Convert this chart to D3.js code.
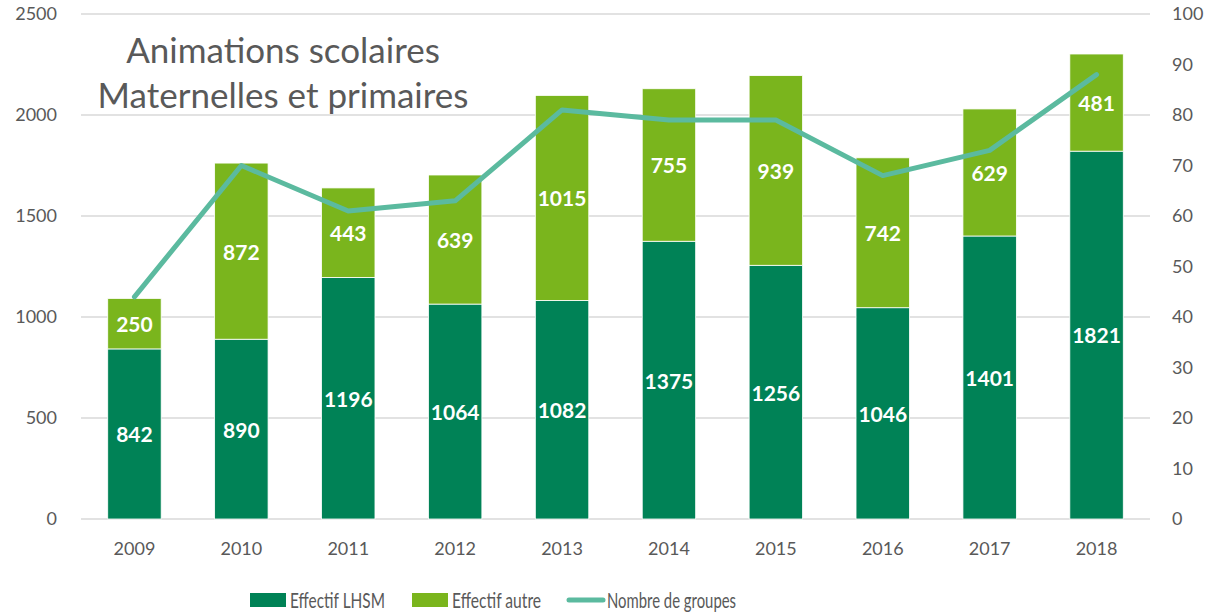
<!DOCTYPE html>
<html>
<head>
<meta charset="utf-8">
<script src="https://cdn.jsdelivr.net/npm/d3@7"></script>
<style>
  body { margin: 0; background: #fff; }
  text { font-family: Lato, "Open Sans", sans-serif; }
</style>
</head>
<body>
<svg></svg>
<script>
const width = 1208;
const height = 613;

const years = ['2009', '2010', '2011', '2012', '2013', '2014', '2015', '2016', '2017', '2018'];
const lhsm = [842, 890, 1196, 1064, 1082, 1375, 1256, 1046, 1401, 1821];
const autre = [250, 872, 443, 639, 1015, 755, 939, 742, 629, 481];
const groupes = [44, 70, 61, 63, 81, 79, 79, 68, 73, 88];
const leftTicks = [0, 500, 1000, 1500, 2000, 2500];
const rightTicks = [0, 10, 20, 30, 40, 50, 60, 70, 80, 90, 100];

const darkGreen = '#008256';
const lightGreen = '#7ab51d';
const lineColor = '#5bba9f';
const textColor = '#595959';

const margin = {left: 81, right: 58, top: 14, bottom: 94};

const svg = d3.select('svg')
    .attr('width', width)
    .attr('height', height);

const x = d3.scaleBand()
    .domain(years)
    .range([margin.left, width - margin.right])
    .paddingInner(0.5)
    .paddingOuter(0.25);

const y = d3.scaleLinear().domain([0, 2500]).range([height - margin.bottom, margin.top]);
const y2 = d3.scaleLinear().domain([0, 100]).range([height - margin.bottom, margin.top]);

// gridlines
svg.append('g').selectAll('line')
    .data(leftTicks)
    .enter().append('line')
    .attr('x1', margin.left)
    .attr('x2', width - margin.right)
    .attr('y1', d => y(d))
    .attr('y2', d => y(d))
    .attr('stroke', '#d9d9d9')
    .attr('stroke-width', 1.3);

// left axis
const leftAxis = svg.append('g')
    .attr('transform', `translate(${margin.left},0)`)
    .call(d3.axisLeft(y).tickValues(leftTicks).tickFormat(d3.format('d')).tickSize(0).tickPadding(24));
leftAxis.select('.domain').remove();
leftAxis.selectAll('text').attr('fill', textColor).style('font-size', '18px');

// right axis
const rightAxis = svg.append('g')
    .attr('transform', `translate(${width - margin.right},0)`)
    .call(d3.axisRight(y2).tickValues(rightTicks).tickFormat(d3.format('d')).tickSize(0).tickPadding(22));
rightAxis.select('.domain').remove();
rightAxis.selectAll('text').attr('fill', textColor).style('font-size', '18px');

// bottom axis
const bottomAxis = svg.append('g')
    .attr('transform', `translate(0,${height - margin.bottom})`)
    .call(d3.axisBottom(x).tickSize(0).tickPadding(23));
bottomAxis.select('.domain').remove();
bottomAxis.selectAll('text').attr('fill', textColor).style('font-size', '18px');

const rows = years.map((yr, i) => ({year: yr, lhsm: lhsm[i], autre: autre[i], groupes: groupes[i]}));

// bars
const bars = svg.append('g');
bars.selectAll('rect.lhsm')
    .data(rows)
    .enter().append('rect')
    .attr('class', 'lhsm')
    .attr('x', d => x(d.year))
    .attr('width', x.bandwidth())
    .attr('y', d => y(d.lhsm))
    .attr('height', d => y(0) - y(d.lhsm))
    .attr('fill', darkGreen)
    .attr('stroke', '#fff')
    .attr('stroke-width', 0.8);

bars.selectAll('rect.autre')
    .data(rows)
    .enter().append('rect')
    .attr('class', 'autre')
    .attr('x', d => x(d.year))
    .attr('width', x.bandwidth())
    .attr('y', d => y(d.lhsm + d.autre))
    .attr('height', d => y(d.lhsm) - y(d.lhsm + d.autre))
    .attr('fill', lightGreen)
    .attr('stroke', '#fff')
    .attr('stroke-width', 0.8);

// line
const line = d3.line()
    .x(d => x(d.year) + x.bandwidth() / 2)
    .y(d => y2(d.groupes));

svg.append('path')
    .datum(rows)
    .attr('d', line)
    .attr('fill', 'none')
    .attr('stroke', lineColor)
    .attr('stroke-width', 5)
    .attr('stroke-linecap', 'round')
    .attr('stroke-linejoin', 'round');

// data labels
const labels = svg.append('g')
    .attr('text-anchor', 'middle')
    .attr('fill', '#fff')
    .style('font-size', '21px')
    .style('font-weight', 'bold');

labels.selectAll('text.lhsm')
    .data(rows)
    .enter().append('text')
    .attr('x', d => x(d.year) + x.bandwidth() / 2)
    .attr('y', d => (y(0) + y(d.lhsm)) / 2)
    .attr('dy', '0.4em')
    .text(d => d.lhsm);

labels.selectAll('text.autre')
    .data(rows)
    .enter().append('text')
    .attr('x', d => x(d.year) + x.bandwidth() / 2)
    .attr('y', d => (y(d.lhsm) + y(d.lhsm + d.autre)) / 2)
    .attr('dy', '0.4em')
    .text(d => d.autre);

// title
const title = svg.append('text')
    .attr('text-anchor', 'middle')
    .attr('fill', textColor)
    .style('font-size', '35px');
title.append('tspan').attr('x', 283).attr('y', 63).text('Animations scolaires');
title.append('tspan').attr('x', 283).attr('y', 108).text('Maternelles et primaires');

// legend
const legendItems = [
    {label: 'Effectif LHSM', color: darkGreen, type: 'rect', x: 250, w: 95},
    {label: 'Effectif autre', color: lightGreen, type: 'rect', x: 412, w: 89},
    {label: 'Nombre de groupes', color: lineColor, type: 'line', x: 567, w: 129}
];
const legendY = 600;
const legend = svg.selectAll('g.legend')
    .data(legendItems)
    .enter().append('g')
    .attr('class', 'legend');

legend.filter(d => d.type === 'rect').append('rect')
    .attr('x', d => d.x)
    .attr('y', legendY - 7)
    .attr('width', 36)
    .attr('height', 14)
    .attr('fill', d => d.color);

legend.filter(d => d.type === 'line').append('line')
    .attr('x1', d => d.x + 2)
    .attr('x2', d => d.x + 36)
    .attr('y1', legendY)
    .attr('y2', legendY)
    .attr('stroke', d => d.color)
    .attr('stroke-width', 5)
    .attr('stroke-linecap', 'round');

legend.append('text')
    .attr('x', d => d.x + 40)
    .attr('y', legendY)
    .attr('dy', '0.36em')
    .attr('fill', textColor)
    .style('font-size', '22px')
    .attr('textLength', d => d.w)
    .attr('lengthAdjust', 'spacingAndGlyphs')
    .text(d => d.label);
</script>
</body>
</html>
